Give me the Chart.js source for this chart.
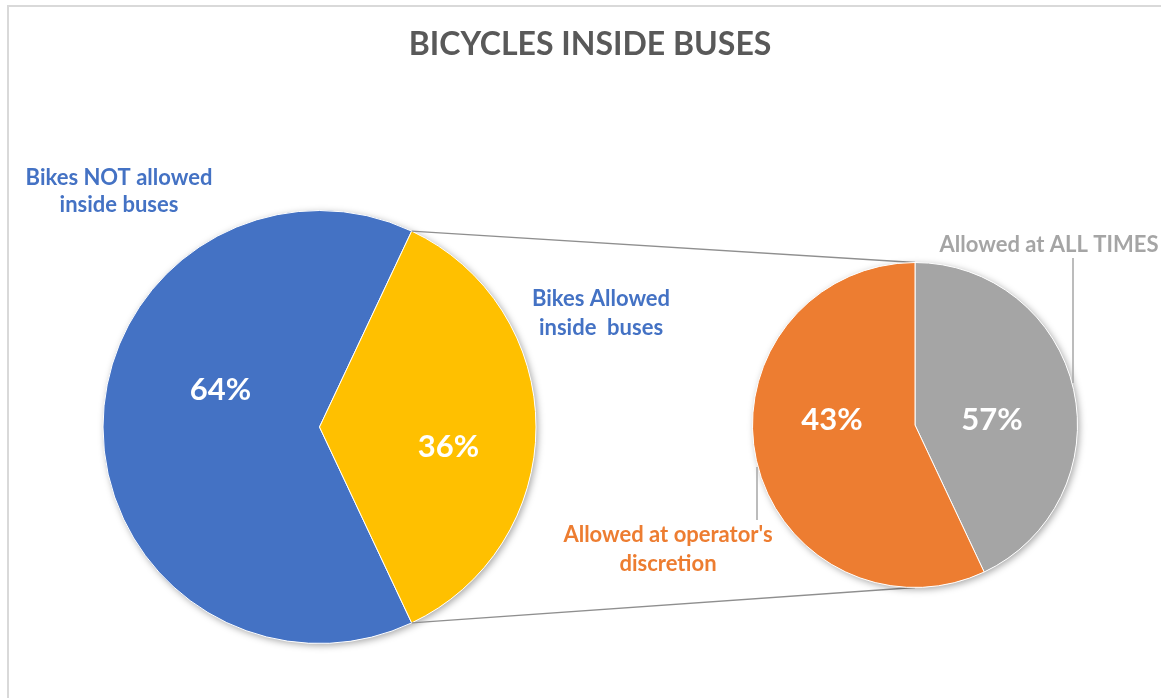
<!DOCTYPE html>
<html>
<head>
<meta charset="utf-8">
<script src="https://cdn.jsdelivr.net/npm/chart.js@4.4.1/dist/chart.umd.min.js"></script>
<style>
  html, body { margin: 0; padding: 0; background: #fff; }
  #wrap { position: relative; width: 1161px; height: 698px; overflow: hidden; }
  #frame { position: absolute; left: 7px; top: 5px; width: 1200px; height: 750px;
           border-left: 2px solid #d9d9d9; border-top: 2px solid #d9d9d9; }
  canvas { position: absolute; left: 0; top: 0; }
</style>
</head>
<body>
<div id="wrap">
  <div id="frame"></div>
  <canvas id="mainPie" width="1161" height="698"></canvas>
  <canvas id="subPie" width="1161" height="698"></canvas>
</div>
<script>
// pie of pie: bicycles inside buses

const chartTitle = 'BICYCLES INSIDE BUSES';

const mainCategories = [['Bikes NOT allowed', 'inside buses'], ['Bikes Allowed', 'inside  buses']];
const mainValues = [64, 36];
const mainLabels = ['64%', '36%'];
const mainColors = ['#4472C4', '#FFC000'];

const subCategories = [['Allowed at ALL TIMES'], ["Allowed at operator's", 'discretion']];
// wedge sizes as they are drawn in the picture (the printed % below read the other way round)
const subValues = [43, 57];
const subLabels = ['57%', '43%'];
const subColors = ['#A5A5A5', '#ED7D31'];

const FONT = 'Lato, "Open Sans", sans-serif';

function sum(arr) { return arr.reduce((a, b) => a + b, 0); }

// blue wedge starts where the yellow one (centred on the right) ends
const mainRotation = 90 + (mainValues[1] / sum(mainValues)) * 180;

function pieShadow(chart) {
    const el = chart.getDatasetMeta(0).data[0];
    const ctx = chart.ctx;
    ctx.save();
    ctx.shadowColor = 'rgba(0,0,0,0.35)';
    ctx.shadowBlur = 7;
    ctx.shadowOffsetX = 2;
    ctx.shadowOffsetY = 2;
    ctx.beginPath();
    ctx.arc(el.x, el.y, el.outerRadius, 0, Math.PI * 2);
    ctx.fillStyle = '#fff';
    ctx.fill();
    ctx.restore();
}

function pctText(chart, labels, offsets) {
    const ctx = chart.ctx;
    const meta = chart.getDatasetMeta(0);
    ctx.save();
    ctx.font = 'bold 31px ' + FONT;
    ctx.fillStyle = '#fff';
    ctx.textAlign = 'center';
    ctx.textBaseline = 'middle';
    meta.data.forEach((el, i) => {
        ctx.fillText(labels[i], el.x + offsets[i][0], el.y + offsets[i][1]);
    });
    ctx.restore();
}

function multiLine(ctx, lines, x, y, lh) {
    lines.forEach((t, i) => ctx.fillText(t, x, y + i * lh));
}

const mainChart = new Chart(document.getElementById('mainPie'), {
    type: 'pie',
    data: {
        labels: mainCategories,
        datasets: [{
            data: mainValues,
            backgroundColor: mainColors,
            borderColor: '#fff',
            borderWidth: 1
        }]
    },
    options: {
        responsive: false,
        animation: false,
        rotation: mainRotation,
        layout: { padding: { left: 102, right: 624, top: 210, bottom: 54 } },
        plugins: { legend: { display: false }, tooltip: { enabled: false } }
    },
    plugins: [{
        id: 'mainDecor',
        beforeDatasetsDraw(chart) { pieShadow(chart); },
        afterDatasetsDraw(chart) { pctText(chart, mainLabels, [[-99, -37], [129, 20]]); }
    }]
});

const subChart = new Chart(document.getElementById('subPie'), {
    type: 'pie',
    data: {
        labels: subCategories,
        datasets: [{
            data: subValues,
            backgroundColor: subColors,
            borderColor: '#fff',
            borderWidth: 1
        }]
    },
    options: {
        responsive: false,
        animation: false,
        rotation: 0,
        layout: { padding: { left: 752, right: 83, top: 262, bottom: 110 } },
        plugins: { legend: { display: false }, tooltip: { enabled: false } }
    },
    plugins: [{
        id: 'subDecor',
        beforeDatasetsDraw(chart) {
            // connector lines from the yellow wedge to top / bottom of the second pie
            const ctx = chart.ctx;
            const y1 = mainChart.getDatasetMeta(0).data[1];
            const s = chart.getDatasetMeta(0).data[0];
            ctx.save();
            ctx.strokeStyle = '#8f8f8f';
            ctx.lineWidth = 1.3;
            ctx.beginPath();
            ctx.moveTo(y1.x + y1.outerRadius * Math.cos(y1.startAngle), y1.y + y1.outerRadius * Math.sin(y1.startAngle));
            ctx.lineTo(s.x, s.y - s.outerRadius);
            ctx.moveTo(y1.x + y1.outerRadius * Math.cos(y1.endAngle), y1.y + y1.outerRadius * Math.sin(y1.endAngle));
            ctx.lineTo(s.x, s.y + s.outerRadius);
            ctx.stroke();
            ctx.restore();
            pieShadow(chart);
        },
        afterDatasetsDraw(chart) {
            const ctx = chart.ctx;
            pctText(chart, subLabels, [[77, -5], [-83, -5]]);

            // leader lines
            ctx.save();
            ctx.strokeStyle = '#a6a6a6';
            ctx.lineWidth = 1.5;
            ctx.beginPath();
            ctx.moveTo(1073, 258); ctx.lineTo(1073, 383);
            ctx.moveTo(757, 467); ctx.lineTo(757, 520);
            ctx.stroke();

            // title
            ctx.textAlign = 'center';
            ctx.textBaseline = 'middle';
            ctx.fillStyle = '#595959';
            ctx.font = 'bold 32px ' + FONT;
            ctx.fillText(chartTitle, 590, 45);

            // category labels
            ctx.font = 'bold 22px ' + FONT;
            ctx.fillStyle = mainColors[0];
            multiLine(ctx, mainCategories[0], 119, 178, 27);
            multiLine(ctx, mainCategories[1], 601, 299, 29);
            ctx.fillStyle = subColors[0];
            multiLine(ctx, subCategories[0], 1049, 245, 29);
            ctx.fillStyle = subColors[1];
            multiLine(ctx, subCategories[1], 668, 535, 29);
            ctx.restore();
        }
    }]
});
</script>
</body>
</html>
